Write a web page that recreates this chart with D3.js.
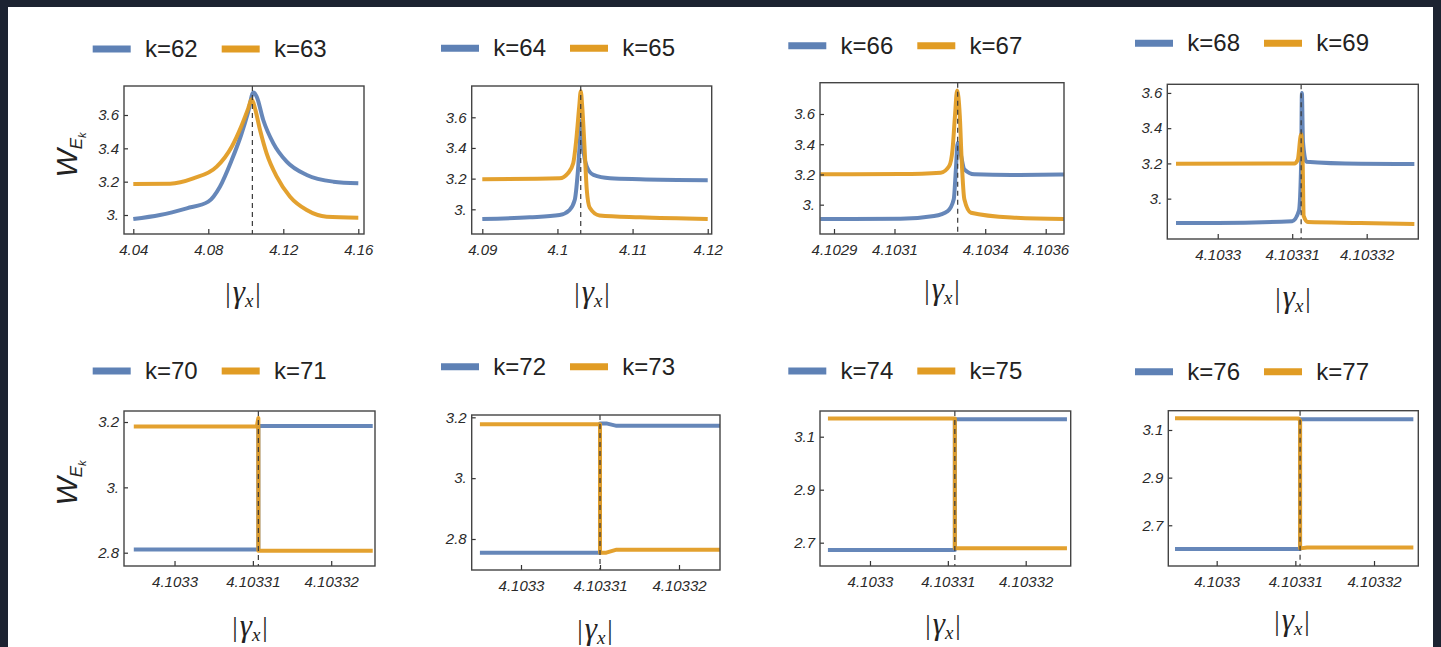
<!DOCTYPE html>
<html>
<head>
<meta charset="utf-8">
<script src="https://cdn.jsdelivr.net/npm/d3@7"></script>
<style>
  html, body { margin: 0; padding: 0; background: #1c2331; }
  svg { display: block; }
</style>
</head>
<body>
<svg id="chart" width="1441" height="647"></svg>
<script>
// ---------- data ----------
const kPairs = [[62, 63], [64, 65], [66, 67], [68, 69], [70, 71], [72, 73], [74, 75], [76, 77]]

const xDomains = [
  [4.03504, 4.16304], [4.08859, 4.12053], [4.10285371, 4.10366051], [4.10329323, 4.10332693],
  [4.10329355, 4.10332559], [4.10329376, 4.10332519], [4.10329358, 4.10332578], [4.10329385, 4.10332563]
]
const yDomains = [
  [2.886, 3.774], [2.839, 3.804], [2.806, 3.807], [2.771, 3.649],
  [2.7593, 3.2337], [2.6981, 3.2076], [2.612, 3.197], [2.529, 3.181]
]

const xTicks = [
  [4.04, 4.08, 4.12, 4.16], [4.09, 4.1, 4.11, 4.12], [4.1029, 4.1031, 4.1034, 4.1036], [4.1033, 4.10331, 4.10332],
  [4.1033, 4.10331, 4.10332], [4.1033, 4.10331, 4.10332], [4.1033, 4.10331, 4.10332], [4.1033, 4.10331, 4.10332]
]
const xTickLabels = [
  ["4.04", "4.08", "4.12", "4.16"], ["4.09", "4.1", "4.11", "4.12"], ["4.1029", "4.1031", "4.1034", "4.1036"],
  ["4.1033", "4.10331", "4.10332"], ["4.1033", "4.10331", "4.10332"], ["4.1033", "4.10331", "4.10332"],
  ["4.1033", "4.10331", "4.10332"], ["4.1033", "4.10331", "4.10332"]
]
const yTicks = [
  [3, 3.2, 3.4, 3.6], [3, 3.2, 3.4, 3.6], [3, 3.2, 3.4, 3.6], [3, 3.2, 3.4, 3.6],
  [2.8, 3, 3.2], [2.8, 3, 3.2], [2.7, 2.9, 3.1], [2.7, 2.9, 3.1]
]
const yTickLabels = [
  ["3.", "3.2", "3.4", "3.6"], ["3.", "3.2", "3.4", "3.6"], ["3.", "3.2", "3.4", "3.6"], ["3.", "3.2", "3.4", "3.6"],
  ["2.8", "3.", "3.2"], ["2.8", "3.", "3.2"], ["2.7", "2.9", "3.1"], ["2.7", "2.9", "3.1"]
]

// position of the dashed vertical marker in each panel
const dashAt = [4.1035, 4.1031, 4.103309, 4.1033112, 4.1033107, 4.10331, 4.1033109, 4.1033106]

// curves, [|gamma_x|, W]
const curve62 = [[4.04, 2.976], [4.0542, 3.0], [4.0685, 3.04], [4.08, 3.08], [4.0862, 3.17], [4.0925, 3.33], [4.0975, 3.48],
  [4.1013, 3.62], [4.104, 3.735], [4.1058, 3.71], [4.1093, 3.57], [4.1147, 3.43], [4.1218, 3.32], [4.1325, 3.24], [4.1467, 3.2], [4.16, 3.19]]
const curve63 = [[4.04, 3.186], [4.0596, 3.188], [4.072, 3.22], [4.0845, 3.29], [4.0925, 3.41], [4.0975, 3.53], [4.1013, 3.64],
  [4.1031, 3.695], [4.1049, 3.64], [4.1076, 3.51], [4.1111, 3.37], [4.1165, 3.23], [4.1236, 3.11], [4.1325, 3.03], [4.1431, 2.99], [4.16, 2.984]]

const curve64 = [[4.09, 2.937], [4.0963, 2.948], [4.1003, 2.963], [4.1016, 2.995], [4.1023, 3.06], [4.1027, 3.235], [4.103, 3.45],
  [4.1032, 3.58], [4.1034, 3.41], [4.1039, 3.28], [4.1048, 3.224], [4.107, 3.202], [4.111, 3.196], [4.12, 3.19]]
const curve65 = [[4.09, 3.196], [4.1003, 3.202], [4.1014, 3.235], [4.1021, 3.30], [4.1025, 3.45], [4.1029, 3.67], [4.1031, 3.77],
  [4.1033, 3.67], [4.1036, 3.41], [4.1039, 3.13], [4.1043, 3.01], [4.1056, 2.96], [4.111, 2.948], [4.12, 2.937]]

const curve66 = [[4.102855, 2.905], [4.10312, 2.907], [4.103231, 2.925], [4.103276, 2.958], [4.103296, 3.036], [4.103303, 3.234],
  [4.103309, 3.41], [4.103318, 3.344], [4.103331, 3.234], [4.103364, 3.201], [4.103487, 3.197], [4.10366, 3.2]]
const curve67 = [[4.102855, 3.201], [4.10312, 3.203], [4.103253, 3.212], [4.103281, 3.256], [4.103292, 3.366], [4.1033, 3.587],
  [4.103307, 3.755], [4.103316, 3.587], [4.103322, 3.30], [4.103331, 3.036], [4.103353, 2.947], [4.103487, 2.915], [4.10366, 2.905]]

const curve68 = [[4.1032944, 2.862], [4.1033, 2.862], [4.10331, 2.872], [4.1033109, 2.93], [4.1033112, 3.2], [4.1033113, 3.6],
  [4.10331145, 3.32], [4.1033119, 3.21], [4.1033192, 3.198], [4.1033264, 3.196]]
const curve69 = [[4.1032944, 3.198], [4.1033103, 3.2], [4.10331074, 3.22], [4.1033112, 3.366], [4.1033114, 3.215],
  [4.10331154, 2.902], [4.1033121, 2.867], [4.1033192, 2.862], [4.1033264, 2.856]]

const curve70 = [[4.1032948, 2.81], [4.1033107, 2.81], [4.1033107, 3.188], [4.1033253, 3.188]]
const curve71 = [[4.1032948, 3.186], [4.1033105, 3.186], [4.1033107, 3.212], [4.1033107, 2.806], [4.1033253, 2.806]]

const curve72 = [[4.1032948, 2.755], [4.10331, 2.755], [4.10331, 3.18], [4.1033108, 3.18], [4.1033121, 3.172], [4.1033252, 3.172]]
const curve73 = [[4.1032948, 3.177], [4.10331, 3.177], [4.10331, 2.755], [4.1033108, 2.755], [4.1033121, 2.765], [4.1033252, 2.765]]

const curve74 = [[4.1032946, 2.672], [4.1033109, 2.672], [4.1033109, 3.166], [4.1033253, 3.166]]
const curve75 = [[4.1032946, 3.169], [4.1033109, 3.169], [4.1033109, 2.679], [4.1033253, 2.679]]

const curve76 = [[4.1032947, 2.6], [4.1033106, 2.6], [4.1033106, 3.145], [4.103325, 3.145]]
const curve77 = [[4.1032947, 3.149], [4.1033104, 3.148], [4.1033106, 3.14], [4.1033106, 2.603], [4.1033115, 2.607], [4.103325, 2.607]]

const blueCurves = [curve62, curve64, curve66, curve68, curve70, curve72, curve74, curve76]
const orangeCurves = [curve63, curve65, curve67, curve69, curve71, curve73, curve75, curve77]

// ---------- layout ----------
const frames = [
  { l: 124, t: 86, r: 364, b: 234 }, { l: 471.7, t: 86, r: 711.7, b: 234 },
  { l: 820, t: 82.7, r: 1064, b: 234 }, { l: 1167.3, t: 84.3, r: 1418.3, b: 239 },
  { l: 124, t: 411, r: 375, b: 566 }, { l: 471.7, t: 415, r: 720, b: 570 },
  { l: 820, t: 411, r: 1070.7, b: 566 }, { l: 1168.3, t: 410.7, r: 1418.3, b: 566 }
]
const legendPos = [[92.7, 49], [441, 48.3], [788.3, 45.7], [1135, 43.3], [92.7, 371], [441, 366.7], [788.3, 371], [1135, 371.7]]
const xLabelPos = [[243, 302], [592, 302], [942, 299], [1293, 307], [250, 636], [595, 639], [943, 634], [1292, 630]]
const yLabelPos = { 0: [77, 155], 4: [77, 483] }

const BLUE = '#5e81b5'
const ORANGE = '#e19c24'

const svg = d3.select('#chart')
svg.append('rect').attr('x', 8).attr('y', 7).attr('width', 1425).attr('height', 640).attr('fill', '#ffffff')

frames.forEach((f, i) => {
  const x = d3.scaleLinear().domain(xDomains[i]).range([f.l, f.r])
  const y = d3.scaleLinear().domain(yDomains[i]).range([f.b, f.t])
  const g = svg.append('g').attr('class', 'panel')

  const clipId = 'clip' + i
  g.append('clipPath').attr('id', clipId)
    .append('rect').attr('x', f.l).attr('y', f.t).attr('width', f.r - f.l).attr('height', f.b - f.t)

  const line = d3.line()
    .x(d => x(d[0]))
    .y(d => y(d[1]))
    .curve(i < 4 ? d3.curveMonotoneX : d3.curveLinear)

  const plot = g.append('g').attr('clip-path', `url(#${clipId})`)
  plot.append('path').datum(blueCurves[i])
    .attr('d', line).attr('fill', 'none').attr('stroke', BLUE)
    .attr('stroke-width', 4).attr('stroke-linejoin', 'round').attr('opacity', 0.95)
  plot.append('path').datum(orangeCurves[i])
    .attr('d', line).attr('fill', 'none').attr('stroke', ORANGE)
    .attr('stroke-width', 4).attr('stroke-linejoin', 'round').attr('opacity', 0.95)

  // dashed marker
  g.append('line')
    .attr('x1', x(dashAt[i])).attr('x2', x(dashAt[i]))
    .attr('y1', f.t).attr('y2', f.b)
    .attr('stroke', '#3a3a3a').attr('stroke-width', 1.2).attr('stroke-dasharray', '5,4')

  // axes (ticks point inward)
  const xAxis = d3.axisBottom(x)
    .tickValues(xTicks[i])
    .tickFormat(d => xTickLabels[i][xTicks[i].indexOf(d)])
    .tickSize(-5).tickPadding(10)
  const gx = g.append('g').attr('transform', `translate(0,${f.b})`).call(xAxis)

  const yAxis = d3.axisLeft(y)
    .tickValues(yTicks[i])
    .tickFormat(d => yTickLabels[i][yTicks[i].indexOf(d)])
    .tickSize(-4).tickPadding(5)
  const gy = g.append('g').attr('transform', `translate(${f.l},0)`).call(yAxis)

  ;[gx, gy].forEach(a => {
    a.select('.domain').remove()
    a.selectAll('.tick line').attr('stroke', '#333').attr('stroke-width', 1.2)
    a.selectAll('.tick text')
      .attr('fill', '#2a2a2a')
      .style('font-family', '"Liberation Sans", Arial, sans-serif')
      .style('font-style', 'italic')
      .style('font-size', '15px')
  })

  // frame
  g.append('rect')
    .attr('x', f.l).attr('y', f.t).attr('width', f.r - f.l).attr('height', f.b - f.t)
    .attr('fill', 'none').attr('stroke', '#444').attr('stroke-width', 1.4)

  // legend
  const [lx, ly] = legendPos[i]
  const legend = g.append('g').attr('class', 'legend').attr('transform', `translate(${lx},${ly})`)
  const items = [{ k: kPairs[i][0], c: BLUE, dx: 0 }, { k: kPairs[i][1], c: ORANGE, dx: 129 }]
  legend.selectAll('line').data(items).join('line')
    .attr('x1', d => d.dx).attr('x2', d => d.dx + 38)
    .attr('y1', 0).attr('y2', 0)
    .attr('stroke', d => d.c).attr('stroke-width', 7)
  legend.selectAll('text').data(items).join('text')
    .attr('x', d => d.dx + 52.3).attr('y', 8)
    .style('font-family', '"Liberation Sans", Arial, sans-serif')
    .style('font-size', '24px')
    .attr('fill', '#222')
    .text(d => 'k=' + d.k)

  // x label |γx|
  const [ax, ay] = xLabelPos[i]
  const xl = g.append('text').attr('x', ax).attr('y', ay)
    .attr('text-anchor', 'middle').attr('fill', '#222')
    .style('font-family', '"Liberation Serif", "DejaVu Serif", serif')
    .style('font-size', '27px')
  xl.append('tspan').text('|')
  xl.append('tspan').attr('dx', 2).style('font-style', 'italic').style('font-size', '31px').text('γ')
  xl.append('tspan').style('font-style', 'italic').style('font-size', '19px').attr('dy', 5).text('x')
  xl.append('tspan').attr('dx', 2).attr('dy', -5).text('|')

  // y label W_{E_k}
  if (yLabelPos[i]) {
    const [bx, by] = yLabelPos[i]
    const yl = g.append('text')
      .attr('transform', `translate(${bx},${by}) rotate(-90)`)
      .attr('text-anchor', 'middle').attr('fill', '#222')
      .style('font-family', '"Liberation Sans", Arial, sans-serif')
      .style('font-style', 'italic')
      .style('font-size', '30px')
    yl.append('tspan').text('W')
    yl.append('tspan').style('font-size', '17px').attr('dy', 5).text('E')
    yl.append('tspan').style('font-size', '11px').attr('dy', 4).text('k')
  }
})
</script>
</body>
</html>
